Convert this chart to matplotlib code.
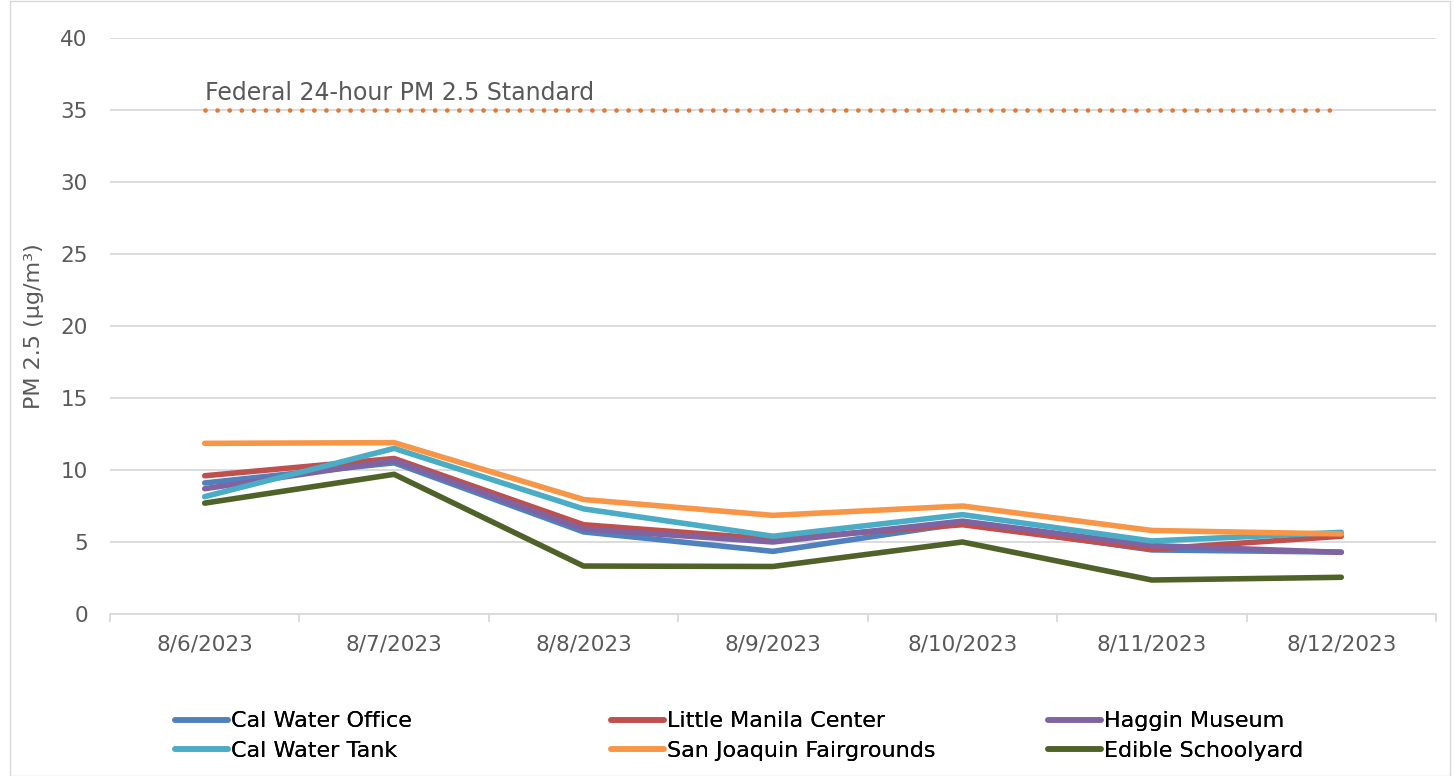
import numpy as np
import matplotlib.pyplot as plt
from matplotlib.patches import Rectangle

dates = ['8/6/2023', '8/7/2023', '8/8/2023', '8/9/2023', '8/10/2023', '8/11/2023', '8/12/2023']

cal_water_office = [9.1, 10.5, 5.7, 4.35, 6.3, 4.45, 4.3]
little_manila = [9.6, 10.8, 6.2, 5.2, 6.2, 4.5, 5.4]
haggin_museum = [8.7, 10.65, 5.9, 5.0, 6.45, 4.75, 4.28]
cal_water_tank = [8.15, 11.5, 7.3, 5.4, 6.9, 5.07, 5.67]
sj_fairgrounds = [11.85, 11.9, 7.95, 6.85, 7.5, 5.8, 5.56]
edible_schoolyard = [7.7, 9.7, 3.33, 3.3, 5.0, 2.36, 2.55]

standard = 35

series = [
    ('Cal Water Office', cal_water_office, '#4F81BD'),
    ('Little Manila Center', little_manila, '#C0504D'),
    ('Haggin Museum', haggin_museum, '#8064A2'),
    ('Cal Water Tank', cal_water_tank, '#4BACC6'),
    ('San Joaquin Fairgrounds', sj_fairgrounds, '#F79646'),
    ('Edible Schoolyard', edible_schoolyard, '#4F6228'),
]

fig = plt.figure(figsize=(14.55, 7.76), dpi=100)
ax = fig.add_axes([110 / 1455, 1 - 614 / 776, 1326 / 1455, 576 / 776])

# рамка вокруг всей диаграммы
fig.patches.append(Rectangle((10 / 1455, 0.0), 1440 / 1455, 0.999, transform=fig.transFigure,
                             fill=False, edgecolor='#D9D9D9', linewidth=1))

x = np.arange(len(dates))
lines = []
for name, vals, col in series:
    ln, = ax.plot(x, vals, color=col, lw=4, solid_capstyle='round', solid_joinstyle='round', label=name)
    lines.append(ln)

ax.plot(x, [standard] * len(x), color='#E07B39', lw=3.4, linestyle=(0, (0.01, 2.55)),
        dash_capstyle='round')
ax.text(0, 36.2, 'Federal 24-hour PM 2.5 Standard', fontsize=17, color='#595959',
        ha='left', va='center')

ax.set_xlim(-0.5, len(dates) - 0.5)
ax.set_ylim(0, 40)
ax.set_yticks(range(0, 41, 5))
ax.set_xticks(x)
ax.set_xticklabels(dates)
ax.set_xticks(np.arange(-0.5, len(dates)), minor=True)
ax.tick_params(axis='x', which='major', length=0, pad=15, labelsize=15.5, labelcolor='#595959')
ax.tick_params(axis='x', which='minor', length=6, color='#D9D9D9', width=1.3)
ax.tick_params(axis='y', length=0, pad=16, labelsize=15.5, labelcolor='#595959')
ax.grid(axis='y', color='#D9D9D9', lw=1.3)
ax.set_axisbelow(True)
for s in ['top', 'right', 'left']:
    ax.spines[s].set_visible(False)
ax.spines['bottom'].set_color('#D9D9D9')
ax.spines['bottom'].set_linewidth(1.3)
ax.set_ylabel('PM 2.5 (µg/m³)', fontsize=16, color='#595959', labelpad=12)

# легенда: три колонки по две строки
col_x = [164, 600, 1037]
for k in range(3):
    leg = fig.legend([lines[k], lines[k + 3]], [series[k][0], series[k + 3][0]],
                     loc='center left', bbox_to_anchor=(col_x[k] / 1455, 1 - 736 / 776),
                     frameon=False, fontsize=16, handlelength=2.4, handletextpad=0.1,
                     labelspacing=0.42, borderpad=0)
    fig.add_artist(leg)

fig.savefig('out.png', dpi=100)
